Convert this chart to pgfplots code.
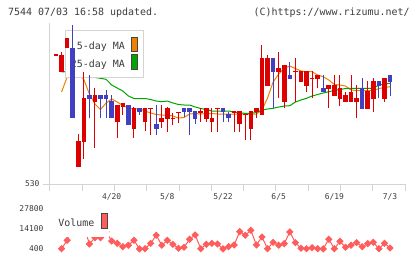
\documentclass[border=0pt]{standalone}
\usepackage{pgfplots}
\pgfplotsset{compat=1.18}
\usepackage{pgfplotstable}
\usepackage{fontspec}
\setmainfont{DejaVu Sans Mono}
\setmonofont{DejaVu Sans Mono}

\definecolor{upred}{RGB}{221,0,0}
\definecolor{dnblue}{RGB}{64,64,192}
\definecolor{maorange}{RGB}{240,128,0}
\definecolor{magreen}{RGB}{0,165,0}
\definecolor{axgray}{RGB}{212,212,212}
\definecolor{txt}{RGB}{60,60,60}
\definecolor{volred}{RGB}{255,92,92}
\definecolor{boxedge}{RGB}{70,70,70}

% red (rising) candles: index open high low close
\pgfplotstableread{
i o h l c
0 658.8 659.8 658.8 659.8
1 642.3 661.7 642.3 659
2 665.7 675.7 665.7 675.7
4 546.7 580 546.7 573.3
5 572.3 642.3 555 616.3
7 612.3 625.7 565.7 618.7
11 592.3 609 575.7 609
12 607.3 610.7 599 610.7
14 585 607.3 575.7 605.7
16 592.3 605.7 583.3 605.7
17 605.2 606.2 579 606.2
19 592 609 585.7 595.7
20 595 607.3 582.3 605.7
21 595.2 601 589 596.2
22 601.3 602.3 591 602.3
26 601.8 606 592.3 602.8
27 595 605.7 592.3 605.7
28 592.3 606 582.3 595.7
29 605.2 606.2 582.3 606.2
32 601.8 602.8 582.3 602.8
33 589.7 603 582.3 603
34 599.2 600.2 574 600.2
35 585 603 574 603
36 602.3 605.7 595.7 605.7
37 599 669 599 656
38 628.3 659 628.3 656
40 642.3 662.3 615.7 646
41 612.3 649 605.7 649
43 642.2 655.7 612.3 643.2
44 632.3 642.7 632.3 642.7
45 628.3 643 622.3 643
46 635.2 643 615.7 636.2
47 635 639 625.7 639
49 625 629 605.7 629
50 618.3 639 618.3 629
51 615 639 608.3 625.7
52 612.3 622.3 612.3 619
53 612.3 639 612.3 622.3
54 612.3 629 595.7 615.7
56 605 633 605 623
57 615 635.7 602.3 633
59 615 635.7 612.3 635.7
}\uptable

% blue (falling) candles
\pgfplotstableread{
i o h l c
3 665.7 689 595.7 595.7
6 618.7 639 595.7 615.3
8 618.7 618.7 595.7 615.3
9 618.7 624 595.7 615.3
10 613 618.7 595.7 595.7
13 609 609 589 589
15 605.7 605.7 599 601.7
18 590 609 579 585
23 605.7 605.7 597.3 602.3
24 605.7 605.7 579 602.3
25 603.3 603.3 589.7 595
30 605.7 605.7 592.3 602.3
31 600 602.3 592.3 595.7
39 656 656 605.7 642.3
42 639 652.3 635.3 635.3
48 625.7 639 622.3 622.3
55 625.7 635.7 605 605
58 633 633 615.7 628.3
60 639 639 618.3 632.3
}\downtable

\pgfplotstableread{
i v
1 622
2 637
3 640
4 641
5 634.5
6 620
7 610
8 604.5
9 611
10 615
11 612
12 608.5
13 606
14 605
15 605.5
16 603
17 601
18 599.5
19 599
20 599
21 598
22 596
23 596.5
24 600
25 600.5
26 600
27 600.5
28 600.5
29 600
30 600
31 600
32 600
33 600
34 600
35 600
36 600
37 604
38 616
39 632
40 640
41 645.7
42 648
43 645.5
44 643
45 642.3
46 642.3
47 639
48 637.3
49 634
50 629.5
51 629
52 628
53 624
54 623.5
55 623.3
56 623.3
57 623.3
58 625.5
59 626.5
60 627.3
}\mafive

\pgfplotstableread{
i v
1 642
2 642.5
3 641
4 640
5 639
6 638
7 636.5
8 635.7
9 634.7
10 629
11 626
12 623
13 618
14 615.5
15 615.5
16 615.5
17 614.5
18 613
19 612.3
20 613
21 611
22 609.5
23 609
24 609
25 607
26 605.5
27 604.5
28 603
29 603
30 603
31 603
32 602
33 601
34 600.7
35 600.7
36 601.5
37 604
38 605
39 605.7
40 607
41 608
42 608.3
43 612
44 614
45 615.7
46 618
47 619.5
48 621
49 622.3
50 623.5
51 624.5
52 625.5
53 625.7
54 625.7
55 625.7
56 625.7
57 625.7
58 629
59 630
60 630.7
}\matwentyfive

\pgfplotstableread{
i v
1 400
2 6200
3 18000
4 22000
5 16000
6 3650
7 8000
8 8000
9 12000
10 5700
11 4100
12 1800
13 2800
14 6200
15 300
16 400
17 4100
18 9700
19 2800
20 6200
21 3400
22 700
23 1400
24 6900
25 9900
26 400
27 3400
28 4100
29 3650
30 300
31 1800
32 3000
33 12200
34 9700
35 13100
36 3000
37 8500
38 400
39 4800
40 2800
41 3900
42 12000
43 4600
44 700
45 400
46 1100
47 400
48 300
49 6900
50 400
51 5500
52 1400
53 2800
54 4600
55 1800
56 3900
57 4800
58 400
59 4100
60 900
}\voltable

\pgfplotsset{
  pane/.style={
    scale only axis, width=355bp,
    xmin=-1.078, xmax=62.69,
    tick label style={font=\fontsize{8}{8}\selectfont, text=txt},
    scaled ticks=false,
  },
  wick/.style={draw=none, mark=none, forget plot,
    error bars/.cd, y dir=plus, y explicit, error mark=none,
    error bar style={draw=#1, line width=1bp}},
  body/.style={draw=none, mark=none, forget plot,
    error bars/.cd, y dir=both, y explicit, error mark=none,
    error bar style={draw=#1, line width=4.6bp}},
}

\begin{document}
\begin{tikzpicture}[x=1bp,y=1bp]
\useasboundingbox (0,0) rectangle (420,-259);

\node[anchor=base west, inner sep=0, text=txt, font=\fontsize{10}{10}\selectfont] at (8,-15.3) {7544 07/03 16:58 updated.};
\node[anchor=base west, inner sep=0, text=txt, font=\fontsize{10}{10}\selectfont] at (253.5,-15.3) {(C)https://www.rizumu.net/};

% axis frame, tick marks and moving averages
\begin{axis}[pane, at={(50bp,-184bp)}, anchor=south west, height=161bp,
  ymin=530, ymax=691,
  axis x line*=bottom, axis y line*=left,
  axis line style={draw=axgray, line width=1bp},
  tick style={draw=axgray, line width=1bp},
  tick align=outside, major tick length=7bp,
  xtick={-1.078,4.724,10.508,16.31,22.11,27.91,33.70,39.50,45.30,51.10,56.89,62.69},
  xticklabels={},
  ytick={530}, yticklabels={530},
]
\addplot[maorange, line width=1bp] table[x=i, y=v] {\mafive};
\addplot[magreen, line width=1bp] table[x=i, y=v] {\matwentyfive};
\end{axis}

% legend box (drawn over the moving averages, under the candles)
\filldraw[fill=white, draw=axgray, line width=0.8bp] (65,-30) rectangle (143.3,-77.3);
\node[anchor=base east, inner sep=0, text=txt, font=\fontsize{10}{10}\selectfont] at (125,-49.6) {5-day MA};
\node[anchor=base east, inner sep=0, text=txt, font=\fontsize{10}{10}\selectfont] at (125,-67) {25-day MA};
\filldraw[fill=maorange, draw=boxedge, line width=0.8bp] (131,-37.3) rectangle (137.3,-51.7);
\filldraw[fill=magreen, draw=boxedge, line width=0.8bp] (131,-54.3) rectangle (137.3,-69);

% candles
\begin{axis}[pane, at={(50bp,-184bp)}, anchor=south west, height=161bp,
  ymin=530, ymax=691,
  axis line style={draw=none},
  major tick length=0pt,
  xtick={10,20,30,40,50,60},
  xticklabels={4/20,5/8,5/22,6/5,6/19,7/3},
  xticklabel style={yshift=-6bp},
  ytick=\empty,
]
\addplot[wick=upred] table[x=i, y=l, y error plus expr={\thisrow{h}-\thisrow{l}}, y error minus expr={0}] {\uptable};
\addplot[wick=dnblue] table[x=i, y=l, y error plus expr={\thisrow{h}-\thisrow{l}}, y error minus expr={0}] {\downtable};
\addplot[body=upred] table[x=i, y expr={(\thisrow{o}+\thisrow{c})/2}, y error expr={abs(\thisrow{c}-\thisrow{o})/2}] {\uptable};
\addplot[body=dnblue] table[x=i, y expr={(\thisrow{o}+\thisrow{c})/2}, y error expr={abs(\thisrow{c}-\thisrow{o})/2}] {\downtable};
\end{axis}

% volume
\begin{axis}[pane, at={(50bp,-248.7bp)}, anchor=south west, height=39.7bp,
  ymin=400, ymax=27800, clip=false,
  axis line style={draw=none},
  major tick length=0pt,
  xtick=\empty,
  ytick={400,14100,27800}, yticklabels={400,14100,27800},
  yticklabel style={xshift=-3bp},
]
\addplot[volred, line width=1bp, mark=square*, mark size=2.1bp, mark options={rotate=45, fill=volred, draw=volred}] table[x=i, y=v] {\voltable};
\end{axis}

\fill[white] (57,-211) rectangle (109,-236.5);
\node[anchor=base west, inner sep=0, text=txt, font=\fontsize{10}{10}\selectfont] at (58.3,-226) {Volume};
\filldraw[fill=volred, draw=boxedge, line width=0.8bp] (101.7,-213.3) rectangle (107.7,-228.3);

\end{tikzpicture}
\end{document}
